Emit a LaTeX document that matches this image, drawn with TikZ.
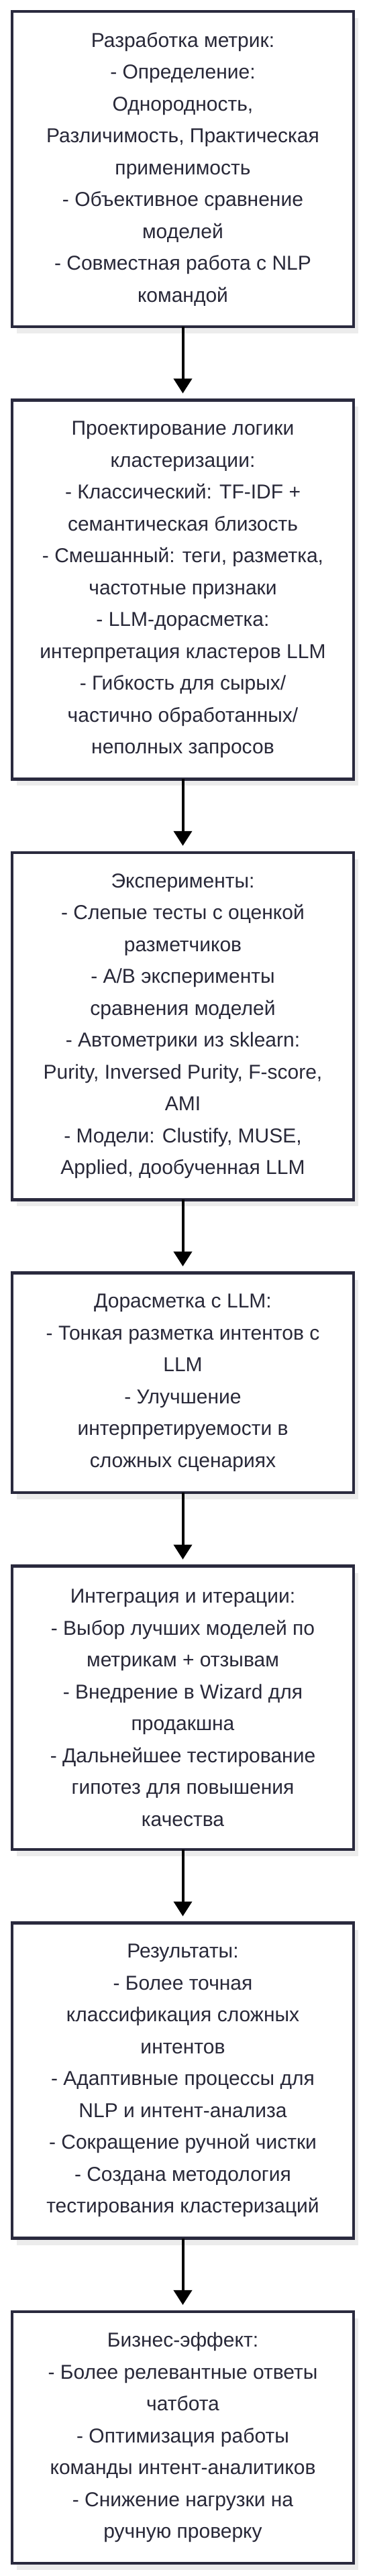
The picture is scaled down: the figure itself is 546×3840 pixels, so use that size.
\documentclass[tikz,border=0pt]{standalone}
\usepackage{fontspec}
\setmainfont{Liberation Sans}
\usepackage{tikz}
\usetikzlibrary{positioning}
\usetikzlibrary{arrows.meta}
\usetikzlibrary{shadows}
\usepackage{xcolor}

\definecolor{boxline}{RGB}{42,42,62}
\definecolor{boxtext}{RGB}{40,40,56}
\definecolor{shadowgrey}{RGB}{236,236,236}

\begin{document}
\begin{tikzpicture}[x=1pt,y=1pt,
node distance=109.4pt,
stage/.style={draw=boxline,line width=4.5pt,fill=white,outer sep=0pt,
  minimum width=509pt,inner sep=0pt,align=center,text=boxtext,
  font=\fontsize{30}{47.5}\selectfont,
  drop shadow={shadow xshift=7pt,shadow yshift=-10pt,fill=shadowgrey,opacity=1}},
flow/.style={line width=4pt,-{Triangle[length=22pt,width=27pt]},shorten >=10pt}]
\useasboundingbox (0,0) rectangle (546,-3840);

\node (Metrics) [stage,minimum height=470pt] at (272.5,-252)
  {Разработка метрик:\\- Определение:\\Однородность,\\Различимость, Практическая\\применимость\\- Объективное сравнение\\моделей\\- Совместная работа с NLP\\командой};
\node (Logic) [stage,minimum height=565pt,below=of Metrics]
  {Проектирование логики\\кластеризации:\\- Классический: TF-IDF +\\семантическая близость\\- Смешанный: теги, разметка,\\частотные признаки\\- LLM-дорасметка:\\интерпретация кластеров LLM\\- Гибкость для сырых/\\частично обработанных/\\неполных запросов};
\node (Exp) [stage,minimum height=517.5pt,below=of Logic]
  {Эксперименты:\\- Слепые тесты с оценкой\\разметчиков\\- A/B эксперименты\\сравнения моделей\\- Автометрики из sklearn:\\Purity, Inversed Purity, F-score,\\AMI\\- Модели: Clustify, MUSE,\\Applied, дообученная LLM};
\node (LLM) [stage,minimum height=327.5pt,below=of Exp]
  {Дорасметка с LLM:\\- Тонкая разметка интентов с\\LLM\\- Улучшение\\интерпретируемости в\\сложных сценариях};
\node (Integ) [stage,minimum height=422.5pt,below=of LLM]
  {Интеграция и итерации:\\- Выбор лучших моделей по\\метрикам + отзывам\\- Внедрение в Wizard для\\продакшна\\- Дальнейшее тестирование\\гипотез для повышения\\качества};
\node (Res) [stage,minimum height=470pt,below=of Integ]
  {Результаты:\\- Более точная\\классификация сложных\\интентов\\- Адаптивные процессы для\\NLP и интент-анализа\\- Сокращение ручной чистки\\- Создана методология\\тестирования кластеризаций};
\node (Biz) [stage,minimum height=375pt,below=of Res]
  {Бизнес-эффект:\\- Более релевантные ответы\\чатбота\\- Оптимизация работы\\команды интент-аналитиков\\- Снижение нагрузки на\\ручную проверку};

% arrows between stages
\foreach \a/\b in {Metrics/Logic,Logic/Exp,Exp/LLM,LLM/Integ,Integ/Res,Res/Biz}
  \draw[flow] (\a) -- (\b);
\end{tikzpicture}
\end{document}
